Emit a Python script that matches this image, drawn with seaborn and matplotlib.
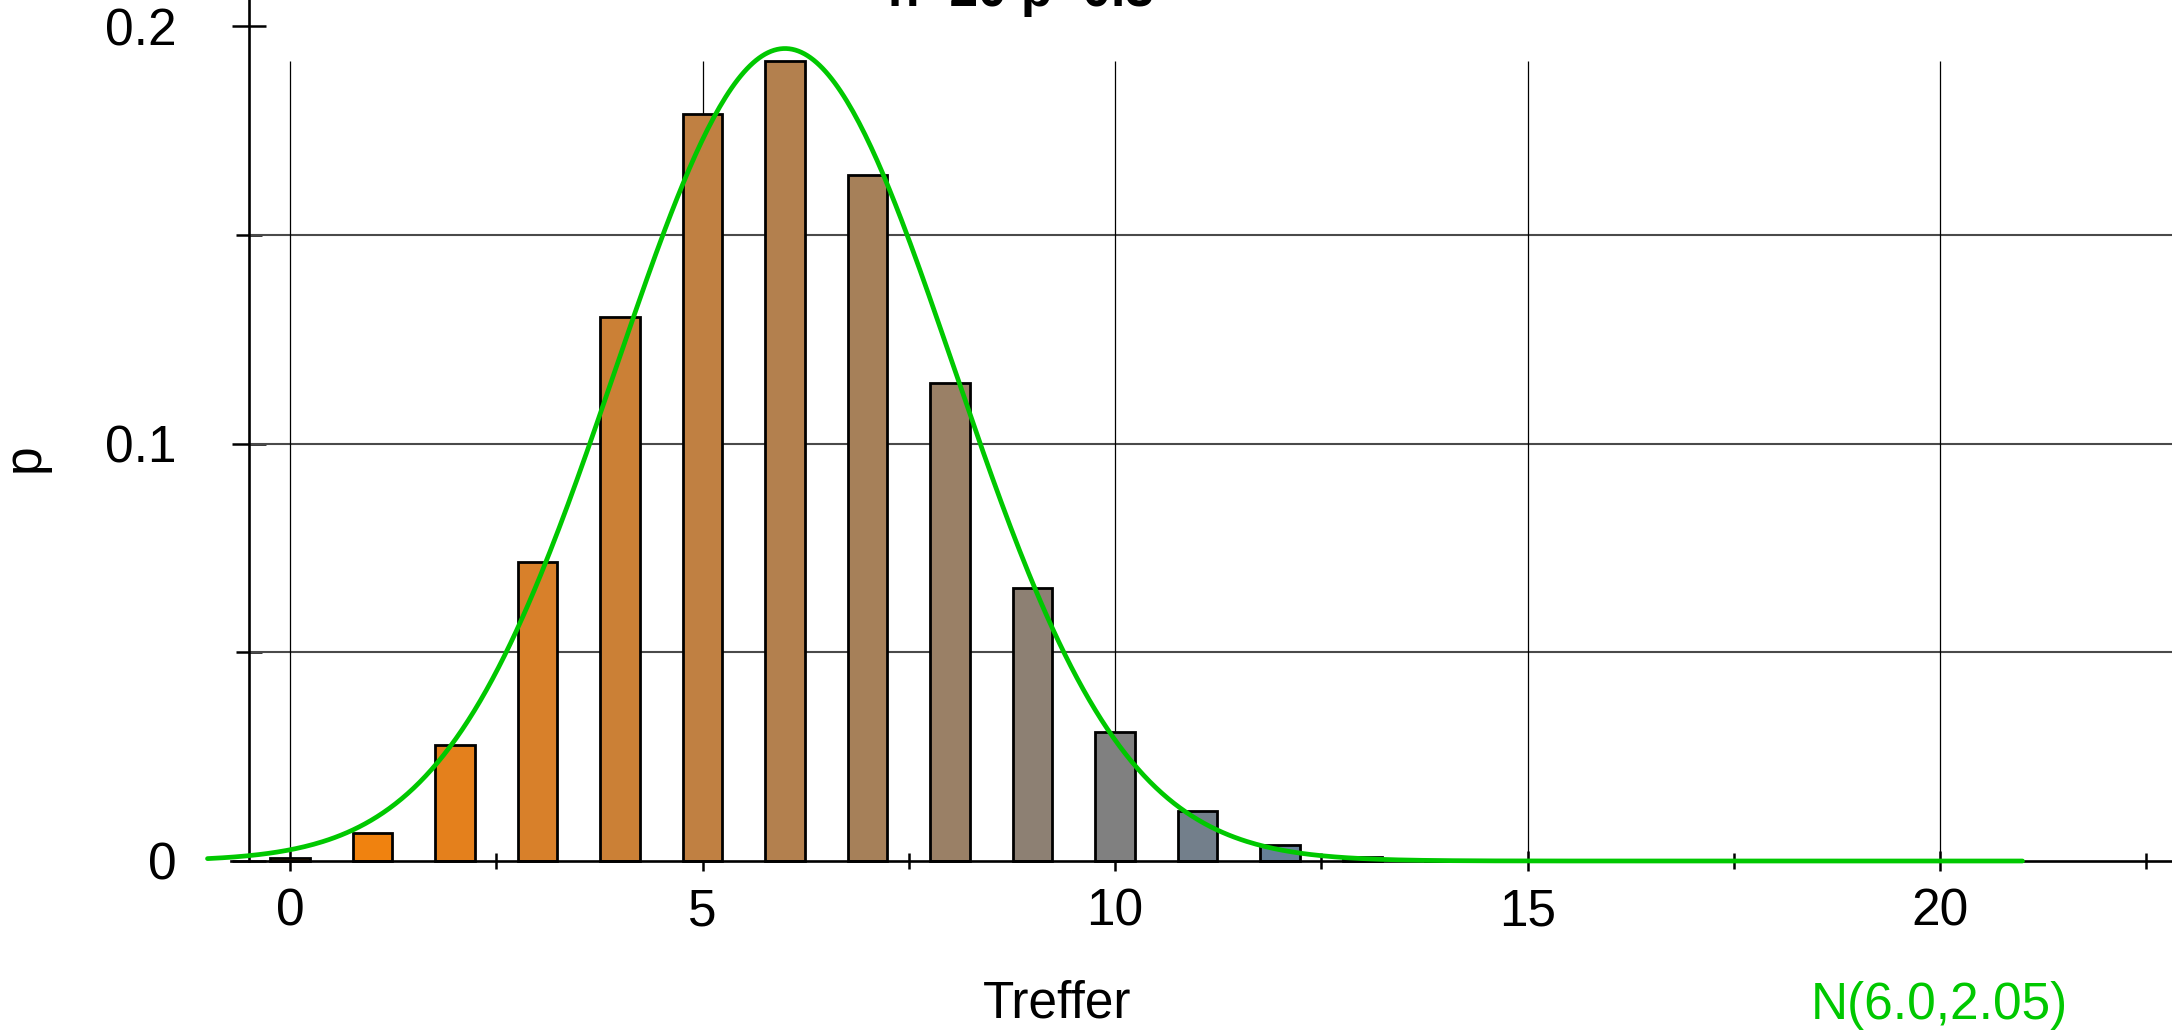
import numpy as np
import pandas as pd
import matplotlib
matplotlib.use("Agg")
import matplotlib.pyplot as plt
from matplotlib.ticker import FixedLocator, FixedFormatter, NullFormatter
import seaborn as sns

# ---------------- data ----------------
treffer = list(range(0, 21))
p_values = [0.0008, 0.0068, 0.0278, 0.0716, 0.1304, 0.1789, 0.1916, 0.1643,
            0.1144, 0.0654, 0.0308, 0.0120, 0.0039, 0.0010, 0.0002, 0.00004,
            0.0, 0.0, 0.0, 0.0, 0.0]
bar_colors = ["#FC8204", "#F0820F", "#E4801C", "#D8802A", "#CB8036", "#C08042",
              "#B3804E", "#A68059", "#9A8066", "#8D8073", "#808080", "#737F8B",
              "#668098", "#5A80A4", "#4E80B0", "#4280BC", "#3680C8", "#2A80D4",
              "#1E80E0", "#1280EC", "#0680F8"]
normal_mu = 6.0
normal_sigma = 2.05
x_major_ticks = [0, 5, 10, 15, 20]
x_minor_ticks = [2.5, 7.5, 12.5, 17.5, 22.5]
y_major_ticks = [0.0, 0.1, 0.2]
y_major_labels = ["0", "0.1", "0.2"]
y_minor_ticks = [0.05, 0.15]
y_grid_lines = [0.05, 0.1, 0.15]
title_text = "n=20 p=0.3"
xlabel_text = "Treffer"
ylabel_text = "p"
normal_label = "N(6.0,2.05)"

# ---------------- style ----------------
sns.set_theme(style="white")
plt.rcParams["font.family"] = ["Liberation Sans", "DejaVu Sans"]
FS = 37
GREEN = "#00C800"

W, H = 2172, 1033
fig = plt.figure(figsize=(W / 100, H / 100), dpi=100)
ax = fig.add_axes([0, 0, 1, 1])
ax.patch.set_alpha(0)

px_x0, px_per_x = 290.0, 82.5
px_y0, px_per_y = 861.0, 4175.0
xlim = (-px_x0 / px_per_x, (W - px_x0) / px_per_x)
ylim = (-(H - px_y0) / px_per_y, px_y0 / px_per_y)

df = pd.DataFrame({"Treffer": treffer, "p": p_values,
                   "k": [str(t) for t in treffer]})
palette = {str(t): c for t, c in zip(treffer, bar_colors)}

sns.barplot(data=df, x="Treffer", y="p", hue="k", palette=palette,
            native_scale=True, width=0.48, dodge=False, errorbar=None,
            saturation=1, edgecolor="black", linewidth=2.0, legend=False,
            ax=ax, zorder=2)

xs = np.linspace(-1.0, 21.0, 600)
ys = np.exp(-0.5 * ((xs - normal_mu) / normal_sigma) ** 2) / (normal_sigma * np.sqrt(2 * np.pi))
sns.lineplot(x=xs, y=ys, color=GREEN, linewidth=3.4, ax=ax, zorder=4, sort=False)

ax.set_xlim(*xlim)
ax.set_ylim(*ylim)

# grid
ax.hlines(y_grid_lines, -0.497, xlim[1], color="#4a4a4a", linewidth=1.5, zorder=1)
ax.vlines(x_major_ticks, 0, max(p_values), color="black", linewidth=0.9, zorder=1)

# spines
for s in ("top", "right"):
    ax.spines[s].set_visible(False)
ax.spines["left"].set_position(("data", -0.497))
ax.spines["left"].set_bounds(0, ylim[1])
ax.spines["bottom"].set_position(("data", 0))
ax.spines["bottom"].set_bounds(-0.715, xlim[1])
for s in ("left", "bottom"):
    ax.spines[s].set_color("black")
    ax.spines[s].set_linewidth(1.9)
    ax.spines[s].set_zorder(3)

ax.xaxis.set_ticks_position("bottom")
ax.yaxis.set_ticks_position("left")
ax.xaxis.set_major_locator(FixedLocator(x_major_ticks))
ax.xaxis.set_major_formatter(FixedFormatter([str(t) for t in x_major_ticks]))
ax.xaxis.set_minor_locator(FixedLocator(x_minor_ticks))
ax.xaxis.set_minor_formatter(NullFormatter())
ax.yaxis.set_major_locator(FixedLocator(y_major_ticks))
ax.yaxis.set_major_formatter(FixedFormatter(y_major_labels))
ax.yaxis.set_minor_locator(FixedLocator(y_minor_ticks))
ax.yaxis.set_minor_formatter(NullFormatter())

ax.tick_params(axis="x", which="major", direction="inout", length=14.4, width=1.8,
               pad=12, labelsize=FS, colors="black")
ax.tick_params(axis="x", which="minor", direction="inout", length=11.5, width=1.8,
               colors="black")
ax.tick_params(axis="y", which="major", direction="inout", length=24.5, width=1.8,
               pad=40, labelsize=FS, colors="black")
ax.tick_params(axis="y", which="minor", direction="inout", length=19.4, width=1.8,
               colors="black")
ax.set_xlabel("")
ax.set_ylabel("")

# texts
fig.text(888 / W, 1 - 6 / H, title_text, fontsize=FS, fontweight="bold",
         ha="left", va="baseline", color="black")
fig.text(25 / W, 1 - 458 / H, ylabel_text, fontsize=FS, rotation=90,
         ha="center", va="center", color="black")
fig.text(1057 / W, 1 - 1018 / H, xlabel_text, fontsize=FS,
         ha="center", va="baseline", color="black")
fig.text(1811 / W, 1 - 1019 / H, normal_label, fontsize=FS,
         ha="left", va="baseline", color=GREEN)

fig.savefig("out.png", dpi=100)
